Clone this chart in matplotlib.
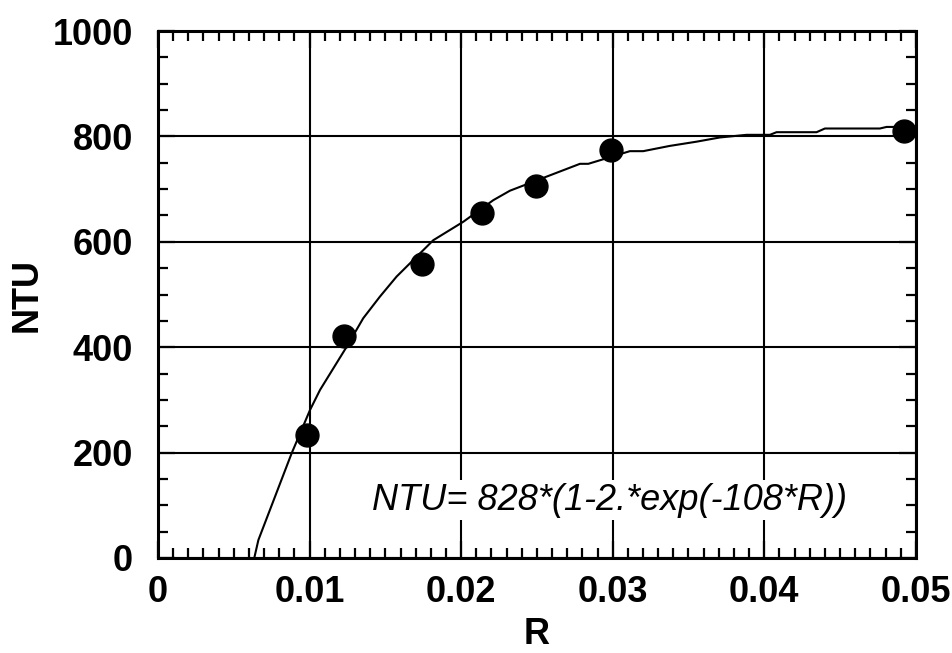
import numpy as np
import matplotlib
matplotlib.use("Agg")
import matplotlib.pyplot as plt
from matplotlib.ticker import MultipleLocator

plt.rcParams['font.family'] = ['Liberation Sans', 'DejaVu Sans']

# measured points
r_data = [0.00981, 0.01227, 0.0174, 0.0214, 0.02494, 0.02988, 0.0492]
ntu_data = [233, 421, 558, 654, 705, 775, 811]

# fitted curve as drawn
r_fit = [0.00635, 0.00662, 0.00882, 0.01003, 0.01069, 0.01245, 0.01354, 0.01464,
         0.01574, 0.01816, 0.02014, 0.02212, 0.02322, 0.02784, 0.02839, 0.03113,
         0.03201, 0.03377, 0.03553, 0.03707, 0.03883, 0.04037, 0.04081, 0.04345,
         0.04400, 0.04763, 0.04807, 0.04982]
ntu_fit = [0, 34, 199, 281, 319, 401, 455, 496,
           534, 603, 638, 679, 697, 748, 748, 772,
           772, 782, 790, 798, 803, 803, 808, 808,
           815, 815, 818, 818]

xtick_labels = ['0', '0.01', '0.02', '0.03', '0.04', '0.05']
fit_label = "NTU= 828*(1-2.*exp(-108*R))"

fig = plt.figure(figsize=(9.52, 6.53), dpi=100)
ax = fig.add_axes([0.166, 0.1455, 0.796, 0.807])

ax.plot(r_fit, ntu_fit, color='black', lw=1.5, zorder=3)
ax.plot(r_data, ntu_data, 'o', color='black', ms=16.5, zorder=4)

ax.set_xlim(0, 0.05)
ax.set_ylim(0, 1000)
ax.set_xticks([0, 0.01, 0.02, 0.03, 0.04, 0.05])
ax.set_xticklabels(xtick_labels)
ax.xaxis.set_minor_locator(MultipleLocator(0.001))
ax.yaxis.set_major_locator(MultipleLocator(200))
ax.yaxis.set_minor_locator(MultipleLocator(50))

ax.grid(True, which='major', color='black', lw=1.5, zorder=1)
ax.tick_params(which='both', direction='in', top=True, right=True,
               labelsize=26, width=1.6, color='black')
ax.tick_params(which='major', length=12)
ax.tick_params(which='minor', length=7)
ax.tick_params(axis='x', pad=12)
ax.tick_params(axis='y', pad=18)
for lab in ax.get_xticklabels() + ax.get_yticklabels():
    lab.set_fontweight('bold')

for s in ax.spines.values():
    s.set_linewidth(2.2)

ax.set_xlabel('R', fontsize=26, fontweight='bold', labelpad=5)
ax.set_ylabel('NTU', fontsize=26, fontweight='bold', labelpad=6)

ax.text(0.0298, 110, fit_label, fontsize=26, style='italic',
        ha='center', va='center', zorder=5,
        bbox=dict(facecolor='white', edgecolor='none', pad=2))

fig.savefig('out.png', dpi=100)
